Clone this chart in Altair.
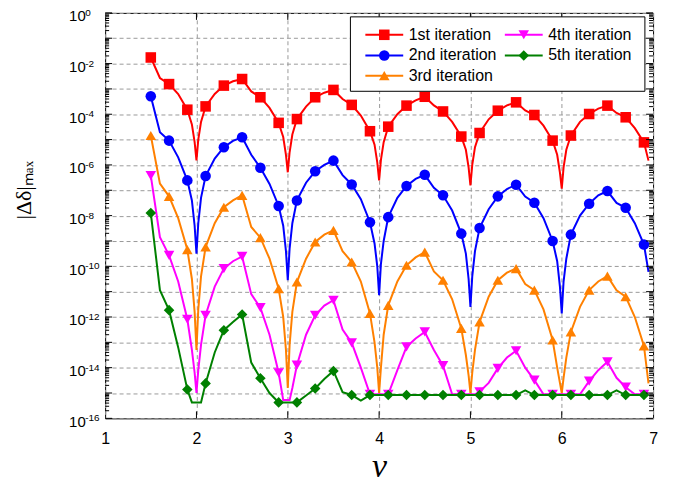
import altair as alt
import pandas as pd

SERIES = ["1st iteration", "2nd iteration", "3rd iteration", "4th iteration", "5th iteration"]
COLORS = ["#FF0000", "#0000FF", "#FF8000", "#FF00FF", "#008000"]
SHAPES = ["square", "circle", "triangle-up", "triangle-down", "diamond"]

# x positions of the line vertices (nu)
X_LINE = [1.5, 1.6, 1.7, 1.8, 1.9, 1.95, 1.98,
          2.0, 2.02, 2.05,
          2.1, 2.2, 2.3, 2.4, 2.5, 2.6, 2.7, 2.8, 2.9, 2.95, 2.98,
          3.0, 3.02, 3.05,
          3.1, 3.2, 3.3, 3.4, 3.5, 3.6, 3.7, 3.8, 3.9, 3.95, 3.98,
          4.0, 4.02, 4.05,
          4.1, 4.2, 4.3, 4.4, 4.5, 4.6, 4.7, 4.8, 4.9, 4.95, 4.98,
          5.0, 5.02, 5.05,
          5.1, 5.2, 5.3, 5.4, 5.5, 5.6, 5.7, 5.8, 5.9, 5.95, 5.98,
          6.0, 6.02, 6.05,
          6.1, 6.2, 6.3, 6.4, 6.5, 6.6, 6.7, 6.8, 6.9, 6.95]

# x positions that carry a marker
MARKER_X = [1.5, 1.7, 1.9, 2.1, 2.3, 2.5, 2.7, 2.9, 3.1, 3.3, 3.5, 3.7, 3.9, 4.1,
            4.3, 4.5, 4.7, 4.9, 5.1, 5.3, 5.5, 5.7, 5.9, 6.1, 6.3, 6.5, 6.7, 6.9]

# log10 of |delta delta|_max
LOG_1ST = [-1.76, -2.57, -2.81, -3.2, -3.82, -4.4, -5.1,
           -5.82, -5.0, -4.3,
           -3.69, -3.2, -2.87, -2.7, -2.61, -3.1, -3.33, -3.75, -4.34, -4.9, -5.6,
           -6.29, -5.5, -4.8,
           -4.19, -3.7, -3.33, -3.15, -3.04, -3.4, -3.63, -4.05, -4.67, -5.2, -5.9,
           -6.61, -5.8, -5.1,
           -4.49, -4.0, -3.66, -3.45, -3.31, -3.65, -3.89, -4.3, -4.88, -5.4, -6.1,
           -6.81, -6.0, -5.3,
           -4.74, -4.2, -3.86, -3.65, -3.53, -3.85, -4.03, -4.45, -5.04, -5.6, -6.3,
           -6.94, -6.1, -5.4,
           -4.84, -4.3, -3.99, -3.78, -3.66, -3.95, -4.12, -4.55, -5.11, -5.83]

LOG_2ND = [-3.29, -4.71, -5.04, -5.7, -6.61, -7.4, -8.4,
           -9.5, -8.3, -7.3,
           -6.44, -5.75, -5.3, -5.05, -4.91, -5.6, -6.11, -6.75, -7.62, -8.4, -9.4,
           -10.55, -9.3, -8.3,
           -7.4, -6.7, -6.25, -6.0, -5.83, -6.4, -6.77, -7.35, -8.26, -9.1, -10.0,
           -11.14, -9.9, -9.0,
           -8.06, -7.3, -6.83, -6.55, -6.39, -6.9, -7.2, -7.8, -8.71, -9.5, -10.5,
           -11.6, -10.4, -9.4,
           -8.49, -7.75, -7.24, -6.95, -6.78, -7.25, -7.49, -8.1, -9.0, -9.8, -10.8,
           -11.86, -10.6, -9.7,
           -8.75, -8.0, -7.53, -7.2, -7.03, -7.5, -7.69, -8.3, -9.14, -10.22]

LOG_3RD = [-4.84, -6.74, -7.24, -8.1, -9.34, -10.5, -11.8,
           -13.3, -11.7, -10.4,
           -9.24, -8.3, -7.67, -7.4, -7.2, -8.45, -8.87, -9.7, -10.88, -12.0, -13.3,
           -14.8, -13.1, -11.8,
           -10.62, -9.7, -9.04, -8.75, -8.58, -9.4, -9.83, -10.6, -11.86, -13.0, -14.0,
           -15.0, -14.0, -12.7,
           -11.54, -10.6, -9.96, -9.65, -9.44, -10.2, -10.55, -11.3, -12.45, -13.5, -14.3,
           -15.0, -14.2, -13.3,
           -12.2, -11.2, -10.55, -10.25, -10.09, -10.7, -10.94, -11.7, -12.91, -14.0, -14.6,
           -15.0, -14.4, -13.6,
           -12.59, -11.6, -10.94, -10.6, -10.39, -10.95, -11.2, -12.0, -13.14, -14.62]

LOG_4TH = [-6.42, -8.85, -9.57, -10.6, -12.09, -13.3, -14.2,
           -15.0, -14.1, -13.1,
           -11.93, -10.8, -10.09, -9.8, -9.61, -11.1, -11.63, -12.7, -14.2, -15.28, -15.28,
           -15.28, -15.28, -14.8,
           -13.9, -12.7, -11.93, -11.55, -11.34, -12.5, -13.02, -14.0, -15.05, -15.05, -15.05,
           -15.05, -15.05, -15.05,
           -15.05, -14.1, -13.18, -12.85, -12.59, -13.3, -13.92, -15.05, -15.05, -15.05, -15.05,
           -15.05, -15.05, -15.05,
           -14.95, -14.6, -14.03, -13.6, -13.33, -14.0, -14.49, -15.05, -15.05, -15.05, -15.05,
           -15.05, -15.05, -15.05,
           -15.05, -15.05, -14.53, -14.1, -13.77, -14.4, -14.77, -15.05, -15.05, -15.05]

LOG_5TH = [-7.9, -10.94, -11.73, -13.2, -14.86, -15.37, -15.37,
           -15.37, -15.37, -15.37,
           -14.62, -13.4, -12.52, -12.2, -11.9, -13.8, -14.42, -15.0, -15.37, -15.37, -15.37,
           -15.37, -15.37, -15.37,
           -15.37, -15.1, -14.82, -14.45, -14.13, -14.97, -15.08, -15.3, -15.08, -15.08, -15.08,
           -15.08, -15.08, -15.08,
           -15.08, -15.08, -15.08, -15.08, -15.08, -15.08, -15.08, -15.08, -15.08, -15.08, -15.08,
           -15.08, -15.08, -15.08,
           -15.08, -15.08, -15.08, -15.08, -15.08, -14.9, -15.08, -15.08, -15.08, -15.08, -15.08,
           -15.08, -15.08, -15.08,
           -15.08, -15.08, -15.08, -15.08, -15.08, -14.9, -15.08, -15.08, -15.08, -15.08]

LOGS = [LOG_1ST, LOG_2ND, LOG_3RD, LOG_4TH, LOG_5TH]

# axis tick values
X_TICKS = [1, 2, 3, 4, 5, 6, 7]
X_INNER_TICKS = [2, 3, 4, 5, 6]
Y_EXP = list(range(-16, 1))
Y_LABEL_EXP = [0, -2, -4, -6, -8, -10, -12, -14, -16]
Y_MINOR_MULT = [2, 3, 4, 5, 6, 7, 8, 9]

W, H = 550, 407
FONT = "Liberation Sans"
MARKER_SIZE = 112

marker_set = {int(round(v * 100)) for v in MARKER_X}
rows = []
for name, logs in zip(SERIES, LOGS):
    assert len(logs) == len(X_LINE), name
    for x, lv in zip(X_LINE, logs):
        rows.append({"series": name, "kind": name, "nu": x, "err": 10.0 ** lv,
                     "marker": int(round(x * 100)) in marker_set})
df = pd.DataFrame(rows)
df_markers = df[df["marker"]]

y_major = pd.DataFrame({"err": [10.0 ** e for e in Y_EXP]})
y_minor = pd.DataFrame({"err": [m * 10.0 ** e for e in Y_EXP[:-1] for m in Y_MINOR_MULT]})
x_inner = pd.DataFrame({"nu": X_INNER_TICKS})
y_exp_lab = pd.DataFrame({"err": [10.0 ** e for e in Y_LABEL_EXP],
                          "t": [str(e) for e in Y_LABEL_EXP]})

xscale = alt.Scale(domain=[1, 7], nice=False, zero=False)
yscale = alt.Scale(type="log", domain=[1e-16, 1], nice=False)

xaxis = alt.Axis(
    values=X_TICKS, format="d", title="ν", grid=True, gridDash=[4, 3], gridColor="#9a9a9a",
    ticks=False, tickSize=0, domain=False, labelFlush=False,
    labelFont=FONT, labelFontSize=16, labelColor="black", labelPadding=12,
    titleFont="Liberation Serif", titleFontStyle="italic", titleFontSize=34,
    titleFontWeight="normal", titleColor="black", titleY=58, titleBaseline="alphabetic",
)
yaxis = alt.Axis(
    values=[10.0 ** e for e in Y_EXP], grid=True, gridDash=[4, 3], gridColor="#9a9a9a",
    ticks=False, tickSize=0, domain=False, labelOverlap=False,
    labelExpr="round(log(datum.value)/LN10) % 2 == 0 ? '10' : ''",
    labelFont=FONT, labelFontSize=15, labelColor="black", labelPadding=20, labelOffset=3,
    title=None,
)

X = alt.X("nu:Q", scale=xscale, axis=xaxis)
Y = alt.Y("err:Q", scale=yscale, axis=yaxis)

color_enc = alt.Color("series:N", scale=alt.Scale(domain=SERIES, range=COLORS), legend=None)
lines = alt.Chart(df).mark_line(strokeWidth=2).encode(x=X, y=Y, color=color_enc)
points = alt.Chart(df_markers).mark_point(
    filled=True, size=MARKER_SIZE, opacity=1, strokeWidth=0).encode(
    x=X, y=Y, color=color_enc,
    shape=alt.Shape("kind:N", scale=alt.Scale(domain=SERIES, range=SHAPES), legend=None),
)

tick_l_major = alt.Chart(y_major).mark_rule(color="black", strokeWidth=1).encode(
    y=Y, x=alt.value(0), x2=alt.value(7))
tick_l_minor = alt.Chart(y_minor).mark_rule(color="black", strokeWidth=1).encode(
    y=Y, x=alt.value(0), x2=alt.value(4))
tick_r_major = alt.Chart(y_major).mark_rule(color="black", strokeWidth=1).encode(
    y=Y, x=alt.value(W - 7), x2=alt.value(W))
tick_r_minor = alt.Chart(y_minor).mark_rule(color="black", strokeWidth=1).encode(
    y=Y, x=alt.value(W - 4), x2=alt.value(W))
tick_b = alt.Chart(x_inner).mark_rule(color="black", strokeWidth=1).encode(
    x=X, y=alt.value(H - 7), y2=alt.value(H))
tick_t = alt.Chart(x_inner).mark_rule(color="black", strokeWidth=1).encode(
    x=X, y=alt.value(0), y2=alt.value(7))
exp_text = alt.Chart(y_exp_lab).mark_text(
    align="left", baseline="middle", dy=0, fontSize=10, font=FONT, color="black").encode(
    y=Y, x=alt.value(-20), text="t:N")

one = pd.DataFrame({"k": [0]})
y_title = alt.Chart(one).mark_text(
    angle=270, align="center", baseline="middle", font="Liberation Serif", fontSize=22,
    color="black").encode(x=alt.value(-81), y=alt.value(178), text=alt.value("|Δδ|ₘₐₓ"))

# legend drawn by hand: box, then a line + marker + label per series
LEG_BOX = (246.2, 541.8, 4, 78.7)
LEG_COL_X = [261.2, 401.2]
LEG_ROW_Y = [22, 42.7, 63]
LEG_LINE_LEN = 38
legend_layers = [
    alt.Chart(one).mark_rect(fill="white", stroke="black", strokeWidth=1).encode(
        x=alt.value(LEG_BOX[0]), x2=alt.value(LEG_BOX[1]),
        y=alt.value(LEG_BOX[2]), y2=alt.value(LEG_BOX[3]))
]
for i, (s, c, shp) in enumerate(zip(SERIES, COLORS, SHAPES)):
    col, row = divmod(i, 3)
    x0, y0 = LEG_COL_X[col], LEG_ROW_Y[row]
    d = alt.Chart(pd.DataFrame({"series": [s]}))
    legend_layers += [
        d.mark_rule(color=c, strokeWidth=2).encode(
            x=alt.value(x0), x2=alt.value(x0 + LEG_LINE_LEN), y=alt.value(y0)),
        d.mark_point(filled=True, shape=shp, size=MARKER_SIZE, opacity=1, color=c,
                     strokeWidth=0).encode(x=alt.value(x0 + LEG_LINE_LEN / 2), y=alt.value(y0)),
        d.mark_text(align="left", baseline="middle", font=FONT, fontSize=16,
                    color="black").encode(
            x=alt.value(x0 + 43.5), y=alt.value(y0), text="series:N"),
    ]

chart = alt.layer(
    lines, points, tick_l_major, tick_l_minor, tick_r_major, tick_r_minor, tick_b, tick_t,
    exp_text, y_title, *legend_layers
).properties(
    width=W, height=H,
    autosize=alt.AutoSizeParams(type="none"),
    padding={"left": 97.5, "top": 4, "right": 20, "bottom": 67},
).configure(background="white").configure_view(stroke="black", strokeWidth=1)

chart.save("out.html", embed_options={"renderer": "svg", "actions": False})
